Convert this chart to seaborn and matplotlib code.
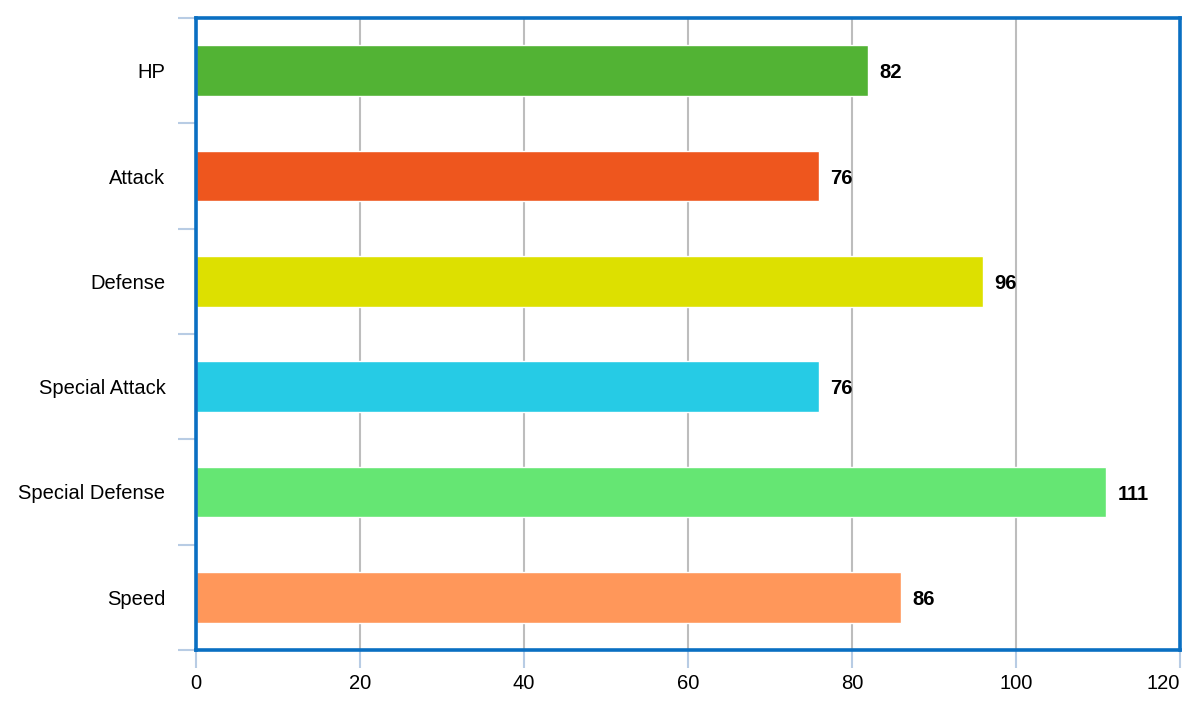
import matplotlib
matplotlib.use("Agg")
import matplotlib.pyplot as plt
import seaborn as sns
import pandas as pd
import numpy as np

# stats
stats = ["HP", "Attack", "Defense", "Special Attack", "Special Defense", "Speed"]
values = [82, 76, 96, 76, 111, 86]
colors = ["#52b334", "#ee561e", "#dde000", "#26cbe5", "#65e673", "#ff975a"]
xticks = [0, 20, 40, 60, 80, 100, 120]

sns.set_style("white")
plt.rcParams["font.family"] = ["Liberation Sans", "DejaVu Sans"]

df = pd.DataFrame({"stat": stats, "value": values})

fig = plt.figure(figsize=(11.91, 7.12), dpi=100)
ax = fig.add_axes([0.1646, 0.0871, 0.8262, 0.8876])

sns.barplot(data=df, x="value", y="stat", hue="stat", palette=colors,
            legend=False, width=0.48, orient="h", saturation=1, ax=ax, zorder=2)

ax.set_xlim(0, 120)
ax.set_ylim(5.5, -0.5)
ax.set_xticks(xticks)
ax.set_xlabel("")
ax.set_ylabel("")

# vertical grid behind bars
ax.grid(axis="x", color="#bdbdbd", linewidth=1.5, zorder=0)
ax.grid(axis="y", visible=False)
ax.set_axisbelow(True)

# blue frame
for s in ax.spines.values():
    s.set_color("#0a6fc2")
    s.set_linewidth(2.6)
    s.set_visible(True)

# tick marks on category boundaries
ax.set_yticks(np.arange(-0.5, len(stats), 1.0), minor=True)
ax.tick_params(axis="y", which="major", length=0, pad=22, labelsize=14.5, labelcolor="black")
ax.tick_params(axis="y", which="minor", length=13, width=1.5, color="#b8cce4", direction="out", left=True)
ax.tick_params(axis="x", which="major", length=13, width=1.5, color="#b8cce4", direction="out",
               pad=4, labelsize=14.5, labelcolor="black", bottom=True)
ax.get_xticklabels()[-1].set_ha("right")

# value labels at bar ends
for p in ax.patches:
    w = p.get_width()
    yc = p.get_y() + p.get_height() / 2
    ax.annotate(f"{w:g}", (w, yc), xytext=(8, -1.5), textcoords="offset points",
                ha="left", va="center", fontsize=14.5, fontweight="bold", color="black")

fig.savefig("out.png", dpi=100)
